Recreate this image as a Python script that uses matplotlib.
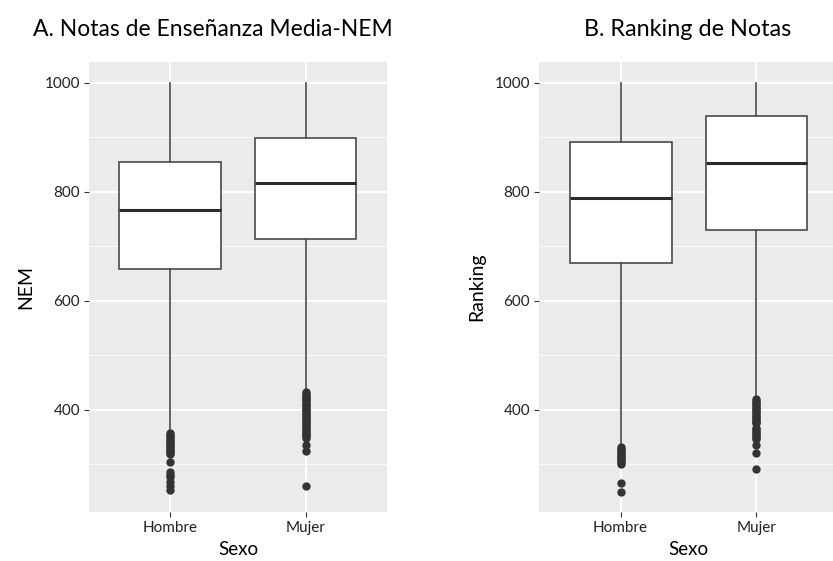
import matplotlib
matplotlib.use("Agg")
import matplotlib.pyplot as plt
from matplotlib.ticker import MultipleLocator

plt.rcParams['font.family'] = ['Lato', 'DejaVu Sans']

# groups on the x axis
grupos = ['Hombre', 'Mujer']

# NEM box statistics per group (Hombre, Mujer)
nem_q1 = [658, 713]
nem_med = [767, 815]
nem_q3 = [854, 898]
nem_lo = [362, 435]
nem_hi = [1000, 1000]
nem_out_h = [357, 354, 351, 348, 345, 342, 339, 336, 333, 330, 327, 324,
             321, 318, 304, 285, 281, 276, 268, 260, 252]
nem_out_m = [432, 429, 426, 423, 420, 417, 414, 411, 408, 405, 402, 399,
             396, 393, 390, 387, 384, 381, 378, 375, 372, 369, 366, 363,
             360, 357, 354, 351, 348, 335, 324, 260]

# Ranking box statistics per group (Hombre, Mujer)
rk_q1 = [669, 729]
rk_med = [789, 853]
rk_q3 = [891, 938]
rk_lo = [336, 421]
rk_hi = [1000, 1000]
rk_out_h = [331, 328, 325, 322, 319, 316, 313, 310, 307, 304, 301, 265, 250]
rk_out_m = [419, 416, 413, 410, 407, 404, 401, 398, 395, 392, 389, 386,
            383, 380, 377, 375, 367, 364, 361, 358, 355, 352, 349, 347,
            335, 320, 291]

titulos = ['A. Notas de Enseñanza Media-NEM', 'B. Ranking de Notas']
ylabels = ['NEM', 'Ranking']

fig = plt.figure(figsize=(8.33, 5.61), dpi=100)
ax1 = fig.add_axes([0.1068, 0.0873, 0.3577, 0.802])
ax2 = fig.add_axes([0.6471, 0.0873, 0.3589, 0.802])


def stats(q1, med, q3, lo, hi, outs):
    res = []
    for i in range(len(grupos)):
        res.append(dict(q1=q1[i], med=med[i], q3=q3[i], whislo=lo[i],
                        whishi=hi[i], fliers=outs[i], label=grupos[i]))
    return res


paneles = [
    (ax1, stats(nem_q1, nem_med, nem_q3, nem_lo, nem_hi, [nem_out_h, nem_out_m])),
    (ax2, stats(rk_q1, rk_med, rk_q3, rk_lo, rk_hi, [rk_out_h, rk_out_m])),
]

for i, (ax, st) in enumerate(paneles):
    ax.set_facecolor('#EBEBEB')
    ax.bxp(st, positions=[1, 2], widths=0.75, patch_artist=True,
           showcaps=False,
           boxprops=dict(facecolor='white', edgecolor='#4a4a4a', linewidth=1.2),
           medianprops=dict(color='#2b2b2b', linewidth=2.2),
           whiskerprops=dict(color='#4a4a4a', linewidth=1.2),
           flierprops=dict(marker='o', markersize=5, markerfacecolor='#333333',
                           markeredgecolor='#333333', linestyle='none'),
           zorder=3)
    ax.set_xlim(0.4, 2.6)
    ax.set_ylim(212.5, 1037.5)
    ax.set_yticks([400, 600, 800, 1000])
    ax.set_yticks([300, 500, 700, 900], minor=True)
    ax.grid(which='major', color='white', linewidth=1.3, zorder=0)
    ax.grid(which='minor', axis='y', color='white', linewidth=0.6, zorder=0)
    ax.set_axisbelow(True)
    for s in ax.spines.values():
        s.set_visible(False)
    ax.tick_params(which='major', length=3.5, width=0.8, color='#333333',
                   labelsize=11, labelcolor='#222222', pad=3)
    ax.tick_params(which='minor', length=0)
    ax.set_xticks([1, 2])
    ax.set_xticklabels(grupos)
    ax.set_xlabel('Sexo', fontsize=13.5, labelpad=4)
    ax.set_ylabel(ylabels[i], fontsize=14, labelpad=7)

fig.text(0.255, 0.935, titulos[0], fontsize=16.5, ha='center', va='baseline')
fig.text(0.825, 0.935, titulos[1], fontsize=16.8, ha='center', va='baseline')

fig.savefig('out.png', dpi=100)
